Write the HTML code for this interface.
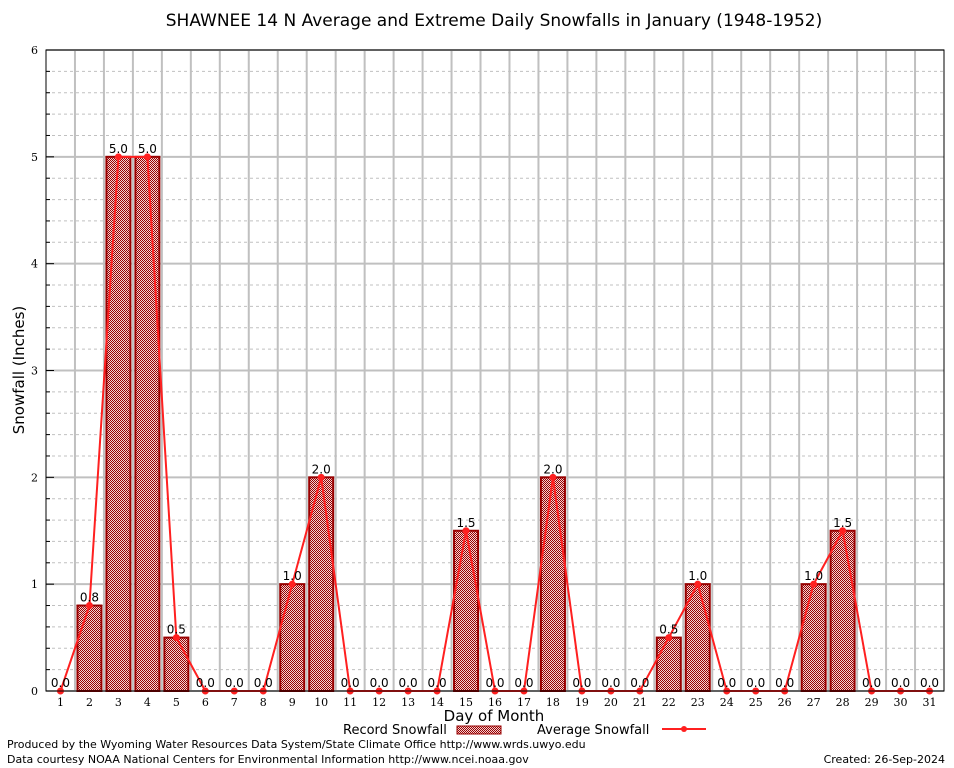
<!DOCTYPE html>
<html><head><meta charset="utf-8"><style>
body{margin:0;background:#fff;}
svg{display:block;font-family:"DejaVu Sans","Liberation Sans",sans-serif;}
</style></head><body>
<svg id="chart" width="954" height="768">
<defs>
<pattern id="hatch" width="2" height="2" patternUnits="userSpaceOnUse">
<rect width="2" height="2" fill="#f2d4d4"/><rect width="1" height="1" fill="#990000"/><rect x="1" y="1" width="1" height="1" fill="#990000"/>
</pattern>
</defs>
<rect x="0" y="0" width="954" height="768" fill="#fff"/>
<text x="494" y="26" text-anchor="middle" font-size="17">SHAWNEE 14 N Average and Extreme Daily Snowfalls in January (1948-1952)</text>
<g id="grid"></g>
<g id="bars"></g>
<g id="line"></g>
<g id="labels"></g>
<rect x="46" y="50" width="898" height="641" fill="none" stroke="#000" stroke-width="1"/>
<g id="axes"></g>
<text x="24" y="370" text-anchor="middle" font-size="15" transform="rotate(-90 24 370)">Snowfall (Inches)</text>
<text x="494" y="721" text-anchor="middle" font-size="15">Day of Month</text>
<g>
<text x="343" y="734" font-size="13">Record Snowfall</text>
<rect x="457" y="726" width="44" height="8" fill="url(#hatch)" stroke="#990000" stroke-width="1"/>
<text x="537" y="734" font-size="13">Average Snowfall</text>
<line x1="662" y1="729" x2="706" y2="729" stroke="#ff2020" stroke-width="2"/>
<circle cx="684" cy="729" r="3" fill="#ff2020"/>
</g>
<text x="7" y="748" font-size="11">Produced by the Wyoming Water Resources Data System/State Climate Office http://www.wrds.uwyo.edu</text>
<text x="7" y="763" font-size="11">Data courtesy NOAA National Centers for Environmental Information http://www.ncei.noaa.gov</text>
<text x="945" y="763" text-anchor="end" font-size="11">Created:  26-Sep-2024</text>
</svg>
<script>
const days=[1,2,3,4,5,6,7,8,9,10,11,12,13,14,15,16,17,18,19,20,21,22,23,24,25,26,27,28,29,30,31];
const recordSnow=[0,0.8,5.0,5.0,0.5,0,0,0,1.0,2.0,0,0,0,0,1.5,0,0,2.0,0,0,0,0.5,1.0,0,0,0,1.0,1.5,0,0,0];
const avgSnow=[0,0.8,5.0,5.0,0.5,0,0,0,1.0,2.0,0,0,0,0,1.5,0,0,2.0,0,0,0,0.5,1.0,0,0,0,1.0,1.5,0,0,0];
const yTicks=[0,1,2,3,4,5,6];
const NS="http://www.w3.org/2000/svg";
const L=46,R=944,T=50,B=691,yMax=6;
const slot=(R-L)/days.length;
const xs=d=>L+slot*(d-0.5);
const ys=v=>B-(v/yMax)*(B-T);
function mk(tag,attrs,parent){const e=document.createElementNS(NS,tag);for(const k in attrs)e.setAttribute(k,attrs[k]);parent.appendChild(e);return e;}
const grid=document.getElementById('grid'),bars=document.getElementById('bars'),line=document.getElementById('line'),labels=document.getElementById('labels'),axes=document.getElementById('axes');
for(let v=0.2;v<yMax;v+=0.2){if(Math.abs(v-Math.round(v))<0.01)continue;
const g=mk('line',{x1:L,x2:R,y1:ys(v),y2:ys(v),stroke:'#c0c0c0','stroke-dasharray':'3,3','stroke-width':1},grid);


const t=mk('line',{x1:L,x2:L+4,y1:ys(v),y2:ys(v),stroke:'#000'},axes);

}
yTicks.forEach(v=>{
const g=mk('line',{x1:L,x2:R,y1:ys(v),y2:ys(v),stroke:'#c0c0c0','stroke-width':2},grid);


const t=mk('line',{x1:L,x2:L+8,y1:ys(v),y2:ys(v),stroke:'#000'},axes);


const tx=mk('text',{x:L-8,y:ys(v)+4,'text-anchor':'end','font-size':11,'font-family':'DejaVu Serif,Liberation Serif,serif'},axes);
tx.textContent=v;

});
for(let i=1;i<days.length;i++){const x=L+slot*i;
const g=mk('line',{x1:x,x2:x,y1:T,y2:B,stroke:'#c0c0c0','stroke-width':2},grid);

}
days.forEach((d,i)=>{
const tx=mk('text',{x:xs(d),y:B+15,'text-anchor':'middle','font-size':11,'font-family':'DejaVu Serif,Liberation Serif,serif'},axes);
tx.textContent=d;


const v=recordSnow[i];
if(v>0){const b=mk('rect',{x:xs(d)-12,y:ys(v),width:24,height:B-ys(v),fill:'url(#hatch)',stroke:'#990000','stroke-width':2},bars);

}
const lb=mk('text',{x:xs(d),y:ys(v)-4,'text-anchor':'middle','font-size':12},labels);
lb.textContent=v.toFixed(1);

});
const pl=mk('polyline',{points:days.map((d,i)=>xs(d)+','+ys(avgSnow[i])).join(' '),fill:'none',stroke:'#ff2020','stroke-width':2},line);


days.forEach((d,i)=>{const c=mk('circle',{cx:xs(d),cy:ys(avgSnow[i]),r:3.5,fill:'#ff2020'},line);

});
</script>
</body></html>
